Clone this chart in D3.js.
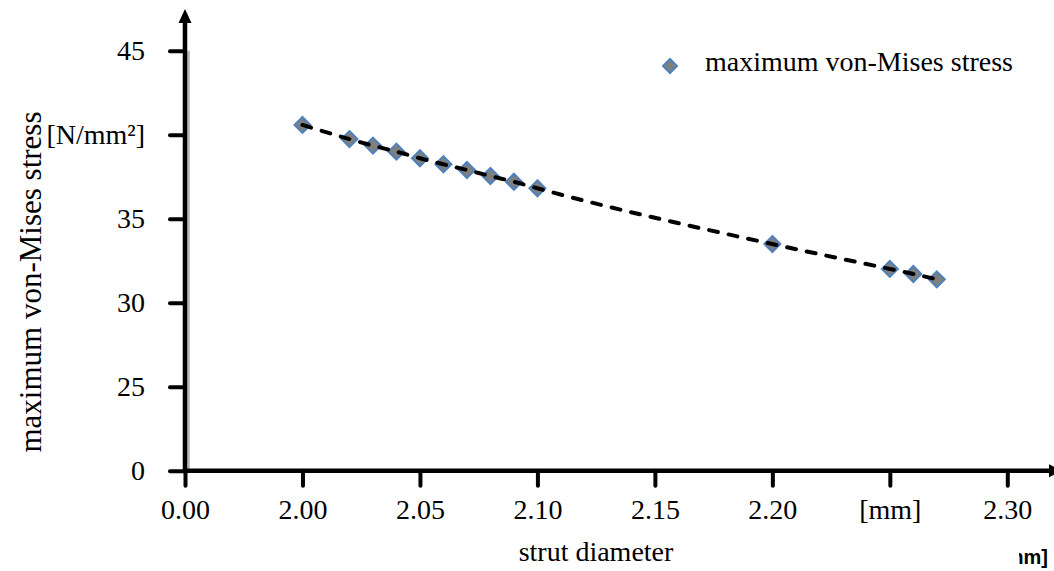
<!DOCTYPE html>
<html>
<head>
<meta charset="utf-8">
<script src="https://cdn.jsdelivr.net/npm/d3@7"></script>
<style>
  body { margin: 0; background: #fff; }
  text { font-family: "Liberation Serif", "Times New Roman", serif; fill: #000; }
</style>
</head>
<body>
<div id="chart"></div>
<script>
// data
var diameter = [2.00, 2.02, 2.03, 2.04, 2.05, 2.06, 2.07, 2.08, 2.09, 2.10, 2.20, 2.25, 2.26, 2.27];
var stress   = [40.58, 39.74, 39.35, 38.99, 38.60, 38.24, 37.90, 37.54, 37.20, 36.81, 33.49, 32.01, 31.71, 31.39];

var xTicks = [1.95, 2.00, 2.05, 2.10, 2.15, 2.20, 2.25, 2.30];
var xTickLabels = ["0.00", "2.00", "2.05", "2.10", "2.15", "2.20", "[mm]", "2.30"];
var yTicks = [20, 25, 30, 35, 40, 45];
var yTickLabels = ["0", "25", "30", "35", "[N/mm²]", "45"];

var seriesName = "maximum von-Mises stress",
    xTitle = "strut diameter",
    yTitle = "maximum von-Mises stress",
    cornerNote = "[mm]";

var width = 1054, height = 571;

var data = diameter.map(function(d, i) { return { d: d, s: stress[i] }; });

var x = d3.scaleLinear().domain([1.95, 2.30]).range([185, 1007.3]);
var y = d3.scaleLinear().domain([20, 45]).range([470.7, 50.7]);

var svg = d3.select("#chart").append("svg")
    .attr("width", width)
    .attr("height", height);

// light shadow next to the y axis
svg.append("line")
    .attr("x1", 188.5).attr("x2", 188.5)
    .attr("y1", y(45)).attr("y2", y(20))
    .style("stroke", "#b4b4b4")
    .style("stroke-width", 2.5);

// y axis
var yAxis = svg.append("g")
    .attr("transform", "translate(" + x(1.95) + ",0)")
    .call(d3.axisLeft(y).tickValues(yTicks)
      .tickFormat(function(d, i) { return yTickLabels[i]; })
      .tickSize(15).tickPadding(25));
yAxis.select(".domain").remove();
yAxis.selectAll(".tick line")
    .style("stroke", "#000").style("stroke-width", 4).style("stroke-linecap", "round");
yAxis.selectAll(".tick text")
    .style("font-size", "28px")
    .style("font-family", "'Liberation Serif', serif")
    .attr("fill", "#000");

// x axis
var xAxis = svg.append("g")
    .attr("transform", "translate(0," + y(20) + ")")
    .call(d3.axisBottom(x).tickValues(xTicks)
      .tickFormat(function(d, i) { return xTickLabels[i]; })
      .tickSize(15));
xAxis.select(".domain").remove();
xAxis.selectAll(".tick line")
    .style("stroke", "#000").style("stroke-width", 4).style("stroke-linecap", "round");
xAxis.selectAll(".tick text")
    .attr("y", 48).attr("dy", 0)
    .style("font-size", "28px")
    .style("font-family", "'Liberation Serif', serif")
    .attr("fill", "#000");

// axis lines with arrows
svg.append("line")
    .attr("x1", x(1.95)).attr("x2", x(1.95))
    .attr("y1", y(20) + 2).attr("y2", 20)
    .style("stroke", "#000").style("stroke-width", 4.5);
svg.append("path")
    .attr("d", "M" + (x(1.95) - 6.5) + ",23L" + x(1.95) + ",9L" + (x(1.95) + 6.5) + ",23Z")
    .style("fill", "#000");

svg.append("line")
    .attr("x1", x(1.95) - 2).attr("x2", 1050)
    .attr("y1", y(20)).attr("y2", y(20))
    .style("stroke", "#000").style("stroke-width", 4.5);
svg.append("path")
    .attr("d", "M1049," + (y(20) - 6.5) + "L1062," + y(20) + "L1049," + (y(20) + 6.5) + "Z")
    .style("fill", "#000");

// markers
var diamond = function(r) { return "M0," + (-r) + "L" + r + ",0L0," + r + "L" + (-r) + ",0Z"; };

svg.selectAll(".pt")
    .data(data)
    .enter().append("path")
      .attr("class", "pt")
      .attr("d", diamond(8))
      .attr("transform", function(d) { return "translate(" + x(d.d) + "," + y(d.s) + ")"; })
      .style("fill", "#7f7f7f")
      .style("stroke", "#4f81bd")
      .style("stroke-width", 2);

// dashed trend line
var line = d3.line()
    .x(function(d) { return x(d.d); })
    .y(function(d) { return y(d.s); })
    .curve(d3.curveMonotoneX);

svg.append("path")
    .datum(data)
    .attr("d", line)
    .style("fill", "none")
    .style("stroke", "#000")
    .style("stroke-width", 4)
    .style("stroke-linecap", "round")
    .style("stroke-dasharray", "9,11");

// legend
svg.append("path")
    .attr("d", diamond(7))
    .attr("transform", "translate(670,66)")
    .style("fill", "#7f7f7f")
    .style("stroke", "#4f81bd")
    .style("stroke-width", 2);
svg.append("text")
    .attr("x", 705).attr("y", 71)
    .style("font-size", "28px")
    .text(seriesName);

// titles
svg.append("text")
    .attr("x", 596).attr("y", 561)
    .style("font-size", "28px")
    .style("text-anchor", "middle")
    .text(xTitle);

svg.append("text")
    .attr("transform", "translate(41,282) rotate(-90)")
    .style("font-size", "31px")
    .style("text-anchor", "middle")
    .text(yTitle);

// clipped unit note, bottom right corner
svg.append("clipPath").attr("id", "noteClip")
  .append("rect").attr("x", 1019).attr("y", 530).attr("width", 40).attr("height", 41);
svg.append("text")
    .attr("x", 1048).attr("y", 564)
    .attr("clip-path", "url(#noteClip)")
    .style("font-family", "'Liberation Sans', Arial, sans-serif")
    .style("font-weight", "bold")
    .style("font-size", "20px")
    .style("text-anchor", "end")
    .text(cornerNote);
</script>
</body>
</html>
